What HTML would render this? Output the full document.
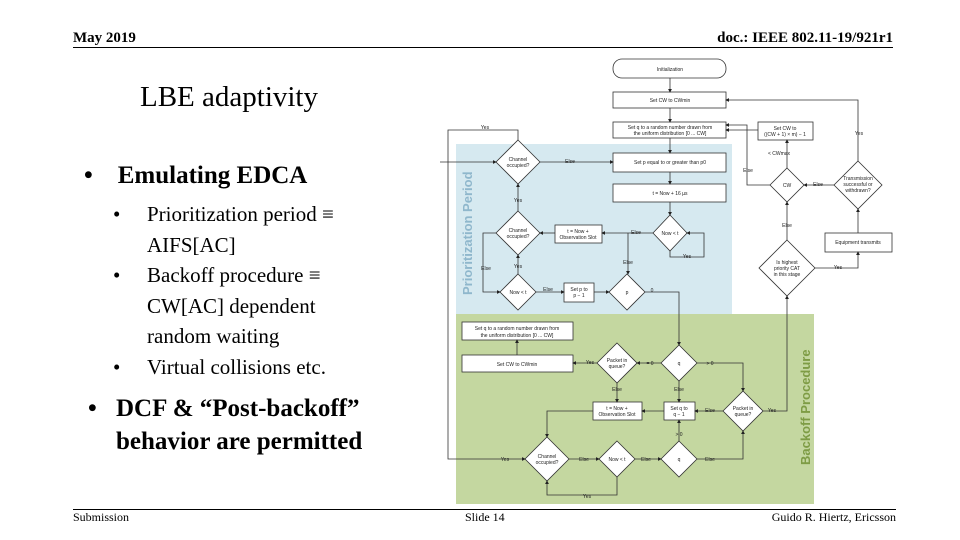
<!DOCTYPE html>
<html><head><meta charset="utf-8"><style>
body{margin:0;width:960px;height:540px;background:#fff;overflow:hidden;position:relative;font-family:"Liberation Serif",serif;color:#000}
.a{position:absolute;white-space:nowrap}
</style></head><body>
<div class="a" style="left:73px;top:30px;font-size:15px;font-weight:bold">May 2019</div>
<div class="a" style="right:67px;top:30px;font-size:15px;font-weight:bold">doc.: IEEE 802.11-19/921r1</div>
<div class="a" style="left:73px;top:47px;width:820px;height:1px;background:#000"></div>
<div class="a" style="left:140px;top:81px;font-size:29px">LBE adaptivity</div>
<div class="a" style="left:84px;top:162px;font-size:25px;font-weight:bold">•&nbsp;&nbsp;&nbsp;&nbsp;Emulating EDCA</div>
<div class="a" style="left:113px;top:199px;font-size:21px;line-height:30.5px">•<br><br>•<br><br><br>•</div>
<div class="a" style="left:147px;top:199px;font-size:21px;line-height:30.5px">Prioritization period ≡<br>AIFS[AC]<br>Backoff procedure ≡<br>CW[AC] dependent<br>random waiting<br>Virtual collisions etc.</div>
<div class="a" style="left:88px;top:392px;font-size:25px;font-weight:bold;line-height:33px">•</div>
<div class="a" style="left:116px;top:392px;font-size:25px;font-weight:bold;line-height:33px">DCF &amp; “Post-backoff”<br>behavior are permitted</div>
<div class="a" style="left:73px;top:509px;width:823px;height:1px;background:#000"></div>
<div class="a" style="left:73px;top:510px;font-size:12px">Submission</div>
<div class="a" style="left:465px;top:510px;font-size:12px">Slide 14</div>
<div class="a" style="right:64px;top:510px;font-size:12px">Guido R. Hiertz, Ericsson</div>
<svg class="a" style="left:0;top:0" width="960" height="540" viewBox="0 0 960 540" font-family="Liberation Sans,sans-serif" font-size="5">
<defs><marker id="m" markerWidth="5" markerHeight="5" refX="4" refY="2.5" orient="auto"><path d="M0,0L5,2.5L0,5z" fill="#222"/></marker></defs>
<rect x="456" y="144" width="276" height="170" fill="#d6e9f0"/>
<rect x="456" y="314" width="358" height="190" fill="#c4d7a0"/>
<text x="472" y="295" transform="rotate(-90 472 295)" font-size="13" fill="#8fb7cc" font-weight="bold">Prioritization Period</text>
<text x="810" y="465" transform="rotate(-90 810 465)" font-size="13" fill="#7e9c45" font-weight="bold">Backoff Procedure</text>
<g stroke="#333" stroke-width="0.8" fill="#fff">
<rect x="613" y="59" width="113" height="19" rx="9"/>
<rect x="613" y="92" width="113" height="16"/>
<rect x="613" y="122" width="113" height="16"/>
<rect x="613" y="153" width="113" height="19"/>
<rect x="613" y="184" width="113" height="18"/>
<path d="M670,215L687,233L670,251L653,233z"/>
<rect x="555" y="225" width="47" height="18"/>
<path d="M518,140L540,162L518,184L496,162z"/>
<path d="M518,211L540,233L518,255L496,233z"/>
<path d="M518,274L536,292L518,310L500,292z"/>
<rect x="564" y="283" width="30" height="19"/>
<path d="M627,274L645,292L627,310L609,292z"/>
<rect x="758" y="122" width="55" height="18"/>
<path d="M787,168L804,185L787,202L770,185z"/>
<path d="M858,161L882,185L858,209L834,185z"/>
<rect x="825" y="233" width="67" height="19"/>
<path d="M787,240L815,268L787,296L759,268z"/>
<rect x="462" y="322" width="111" height="18"/>
<rect x="462" y="355" width="111" height="17"/>
<path d="M617,343L637,363L617,383L597,363z"/>
<path d="M679,345L697,363L679,381L661,363z"/>
<rect x="593" y="402" width="49" height="18"/>
<rect x="664" y="402" width="31" height="18"/>
<path d="M743,391L763,411L743,431L723,411z"/>
<path d="M547,437L569,459L547,481L525,459z"/>
<path d="M617,441L635,459L617,477L599,459z"/>
<path d="M679,441L697,459L679,477L661,459z"/>
</g>
<g stroke="#333" stroke-width="0.8" fill="none" marker-end="url(#m)">
<path d="M670,78V92"/><path d="M670,108V122"/><path d="M670,138V153"/><path d="M670,172V184"/><path d="M670,202V215"/>
<path d="M653,233H602"/><path d="M555,233H540"/>
<path d="M540,162H613"/>
<path d="M518,211V184"/><path d="M518,274V255"/>
<path d="M496,233H483V292H500"/>
<path d="M536,292H564"/><path d="M594,292H609"/>
<path d="M440,162H496"/>
<path d="M518,140V130H448V459H525"/>
<path d="M628,233V274"/>
<path d="M645,292H679V345"/>
<path d="M670,251V257H704V233H687"/>
<path d="M858,161V100H726"/>
<path d="M834,185H804"/>
<path d="M770,185H747V125H726"/>
<path d="M787,168V140"/><path d="M758,130H726"/>
<path d="M787,240V202"/>
<path d="M815,268H858V252"/><path d="M858,233V209"/>
<path d="M661,363H637"/><path d="M597,363H573"/>
<path d="M517,355V340"/>
<path d="M697,363H743V391"/>
<path d="M763,411H787V296"/>
<path d="M723,411H695"/><path d="M664,411H642"/>
<path d="M617,383V402"/><path d="M679,381V402"/>
<path d="M593,411H547V437"/>
<path d="M569,459H599"/><path d="M635,459H661"/>
<path d="M679,441V420"/>
<path d="M697,459H743V431"/>
<path d="M617,477V495H547V481"/>
</g>
<g fill="#222" text-anchor="middle">
<text x="670" y="71">Initialization</text><text x="670" y="102">Set CW to CWmin</text>
<text x="670" y="129">Set q to a random number drawn from</text><text x="670" y="135">the uniform distribution [0 ... CW]</text>
<text x="670" y="164">Set p equal to or greater than p0</text><text x="670" y="195">t = Now + 16 µs</text>
<text x="670" y="235">Now &lt; t</text><text x="578" y="233">t = Now +</text><text x="578" y="239">Observation Slot</text>
<text x="518" y="161">Channel</text><text x="518" y="167">occupied?</text>
<text x="518" y="232">Channel</text><text x="518" y="238">occupied?</text>
<text x="518" y="294">Now &lt; t</text><text x="579" y="291">Set p to</text><text x="579" y="297">p − 1</text>
<text x="627" y="294">p</text><text x="785" y="130">Set CW to</text><text x="785" y="136">((CW + 1) × m) − 1</text>
<text x="787" y="187">CW</text><text x="858" y="180">Transmission</text><text x="858" y="186">successful or</text><text x="858" y="192">withdrawn?</text>
<text x="858" y="244">Equipment transmits</text>
<text x="787" y="264">Is highest</text><text x="787" y="270">priority CAT</text><text x="787" y="276">in this stage</text>
<text x="517" y="330">Set q to a random number drawn from</text><text x="517" y="337">the uniform distribution [0 ... CW]</text>
<text x="517" y="366">Set CW to CWmin</text>
<text x="617" y="362">Packet in</text><text x="617" y="368">queue?</text><text x="679" y="365">q</text>
<text x="617" y="410">t = Now +</text><text x="617" y="416">Observation Slot</text>
<text x="679" y="410">Set q to</text><text x="679" y="416">q − 1</text>
<text x="743" y="410">Packet in</text><text x="743" y="416">queue?</text>
<text x="547" y="458">Channel</text><text x="547" y="464">occupied?</text>
<text x="617" y="461">Now &lt; t</text><text x="679" y="461">q</text>
<text x="485" y="129">Yes</text><text x="570" y="163">Else</text><text x="518" y="202">Yes</text><text x="518" y="268">Yes</text>
<text x="486" y="270">Else</text><text x="548" y="291">Else</text><text x="652" y="292">0</text><text x="636" y="234">Else</text>
<text x="628" y="264">Else</text><text x="687" y="258">Yes</text><text x="859" y="135">Yes</text><text x="818" y="186">Else</text>
<text x="779" y="155">&lt; CWmax</text><text x="748" y="172">Else</text><text x="787" y="227">Else</text><text x="838" y="269">Yes</text>
<text x="590" y="364">Yes</text><text x="650" y="365">= 0</text><text x="710" y="365">&gt; 0</text>
<text x="617" y="391">Else</text><text x="679" y="391">Else</text><text x="710" y="412">Else</text>
<text x="772" y="412">Yes</text><text x="679" y="436">&gt; 0</text><text x="505" y="461">Yes</text>
<text x="584" y="461">Else</text><text x="646" y="461">Else</text><text x="710" y="461">Else</text><text x="587" y="498">Yes</text>
</g>
</svg>
</body></html>
